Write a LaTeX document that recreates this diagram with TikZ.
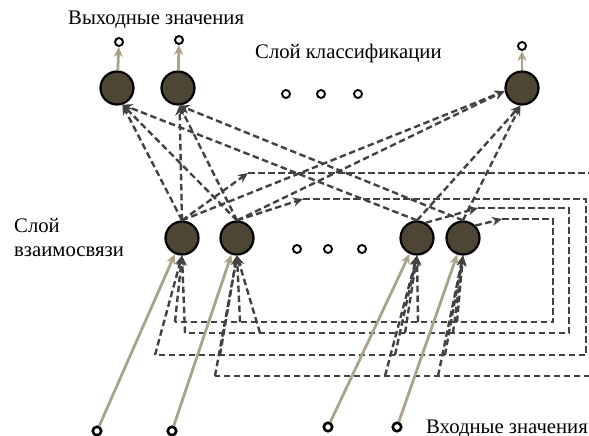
\documentclass[tikz,border=0pt]{standalone}
\usepackage{fontspec}
\setmainfont{Liberation Serif}
\usetikzlibrary{arrows.meta}
\definecolor{nodefill}{RGB}{78,70,52}
\definecolor{dashc}{RGB}{66,66,66}
\definecolor{beige}{RGB}{170,163,135}
\begin{document}
\begin{tikzpicture}[x=1pt,y=-1pt,
  neuron/.style={circle, draw=black, line width=2.2pt, fill=nodefill, minimum size=33pt, inner sep=0pt},
  smalldot/.style={circle, draw=black, line width=1.9pt, fill=white, minimum size=8pt, inner sep=0pt},
  indot/.style={circle, draw=black, line width=2.6pt, fill=white, minimum size=8.5pt, inner sep=0pt},
  dl/.style={draw=dashc, line width=2.4pt, dash pattern=on 6.5pt off 3.5pt},
  dla/.style={dl, -{Stealth[length=10pt,width=9pt]}},
  bl/.style={draw=beige, line width=2.8pt, -{Stealth[length=10pt,width=9pt]}},
  lab/.style={font=\fontsize{20.7}{24}\selectfont, inner sep=0pt, anchor=base west}]
\useasboundingbox (0,0) rectangle (589,436);
% labels
\node[lab] (tout) at (68,25) {Выходные значения};
\node[lab] (tcls) at (255,59) {Слой классификации};
\node[lab] (tmid1) at (14,232) {Слой};
\node[lab] (tmid2) at (14,256) {взаимосвязи};
\node[lab] (tin) at (426,433) {Входные значения};
% neurons
\node[neuron] (O1) at (117,88) {};
\node[neuron] (O2) at (178,88) {};
\node[neuron] (O3) at (522,88) {};
\node[neuron] (H1) at (182,238) {};
\node[neuron] (H2) at (237,238) {};
\node[neuron] (H3) at (417,238) {};
\node[neuron] (H4) at (463,238) {};
% dots
\node[smalldot] (od1) at (119,42) {};
\node[smalldot] (od2) at (179,40) {};
\node[smalldot] (od3) at (522,46) {};
\node[smalldot] (td1) at (286,94) {};
\node[smalldot] (td2) at (321,94) {};
\node[smalldot] (td3) at (358,94) {};
\node[smalldot] (hd1) at (297,249) {};
\node[smalldot] (hd2) at (328,249) {};
\node[smalldot] (hd3) at (362,249) {};
\node[indot] (in1) at (97,431) {};
\node[indot] (in2) at (172,431) {};
\node[indot] (in3) at (328,427) {};
\node[indot] (in4) at (397,427) {};
% coordinates for recurrent loops
\coordinate (t1) at (248,173); \coordinate (t1e) at (600,173);
\coordinate (t2) at (303,199); \coordinate (t2e) at (586,199);
\coordinate (t3) at (478,208); \coordinate (t3e) at (569,208);
\coordinate (t4) at (502,219); \coordinate (t4e) at (553,219);
\coordinate (r1e) at (553,322); \coordinate (r1h1) at (175,322); \coordinate (r1h2) at (240,322); \coordinate (r1h3) at (418,322); \coordinate (r1h4) at (457,322);
\coordinate (r2e) at (569,333); \coordinate (r2h1) at (185,333); \coordinate (r2h2) at (260,333); \coordinate (r2h3) at (405,333); \coordinate (r2h4) at (453,333);
\coordinate (r3e) at (586,355); \coordinate (r3h1) at (155,355); \coordinate (r3h2) at (220,355); \coordinate (r3h3) at (395,355); \coordinate (r3h4) at (445,355);
\coordinate (r4e) at (600,376); \coordinate (r4h2) at (215,376); \coordinate (r4h3) at (385,376); \coordinate (r4h4) at (438,376);
% hidden -> output
\draw[dla] (H1.north) -- (O1.-72);
\draw[dla] (H2.north) -- (O1.-72);
\draw[dla] (H3.north) -- (O1.-72);
\draw[dla] (H1.north) -- (O2.-85);
\draw[dla] (H2.north) -- (O2.-85);
\draw[dla] (H4.north) -- (O2.-85);
\draw[dla] (H1.north) -- (O3.190);
\draw[dla] (H2.north) -- (O3.190);
\draw[dla] (H3.north) -- (O3.-95);
\draw[dla] (H4.north) -- (O3.-95);
% recurrent loops (top part)
\draw[dla] (H1.north) -- (t1);
\draw[dla] (H2.north) -- (t2);
\draw[dla] (H3.60) -- (t3);
\draw[dla] (H4.45) -- (t4);
\draw[dl] (t1) -- (t1e);
\draw[dl] (t2) -- (t2e) -- (r3e) -- (r3h1);
\draw[dl] (t3) -- (t3e) -- (r2e) -- (r2h1);
\draw[dl] (t4) -- (t4e) -- (r1e) -- (r1h1);
\draw[dl] (r4e) -- (r4h2);
% context rows -> hidden
\draw[dla] (r1h1) -- (H1.south);
\draw[dla] (r2h1) -- (H1.south);
\draw[dla] (r3h1) -- (H1.south);
\draw[dla] (r1h2) -- (H2.south);
\draw[dla] (r2h2) -- (H2.south);
\draw[dla] (r3h2) -- (H2.south);
\draw[dla] (r4h2) -- (H2.south);
\draw[dla] (r1h3) -- (H3.south);
\draw[dla] (r2h3) -- (H3.south);
\draw[dla] (r3h3) -- (H3.south);
\draw[dla] (r4h3) -- (H3.south);
\draw[dla] (r1h4) -- (H4.south);
\draw[dla] (r2h4) -- (H4.south);
\draw[dla] (r3h4) -- (H4.south);
\draw[dla] (r4h4) -- (H4.south);
% beige: inputs and outputs
\draw[bl] (in1) -- (H1);
\draw[bl] (in2) -- (H2);
\draw[bl] (in3) -- (H3);
\draw[bl] (in4) -- (H4);
\draw[bl] (O1) -- (od1);
\draw[bl] (O2) -- (od2);
\draw[bl] (O3) -- (od3);
\end{tikzpicture}
\end{document}
